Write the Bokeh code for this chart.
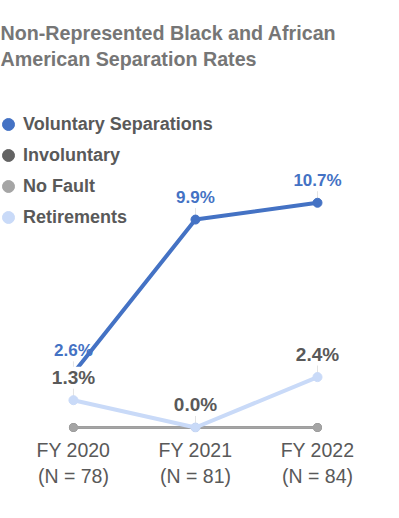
from bokeh.plotting import figure
from bokeh.models import Range1d, FixedTicker, Label, Legend, LegendItem, ColumnDataSource
from bokeh.core.properties import value
from bokeh.embed import file_html
from bokeh.resources import INLINE

categories = ["FY 2020", "FY 2021", "FY 2022"]
n_labels = ["(N = 78)", "(N = 81)", "(N = 84)"]
voluntary = [2.6, 9.9, 10.7]
involuntary = [0.0, 0.0, 0.0]
no_fault = [0.0, 0.0, 0.0]
retirements = [1.3, 0.0, 2.4]

BLUE = "#4472C4"
DARK = "#636363"
GREY = "#A5A5A5"
LIGHT = "#C9DAF8"
TEXT = "#595959"
FONT = "Liberation Sans"

x = list(range(len(categories)))
nan = float("nan")

p = figure(frame_width=383, frame_height=424, output_backend="svg", toolbar_location=None,
           x_range=Range1d(-0.598, 2.541), y_range=Range1d(-0.238, 19.95),
           min_border=0, min_border_top=8, y_axis_location=None, title_location=None)
p.xgrid.visible = False
p.ygrid.visible = False
p.outline_line_color = None

# leader lines
for vals in (voluntary, retirements):
    p.segment(x0=x, y0=vals, x1=x, y1=[v + 0.55 for v in vals], line_color="#E3E3E3", line_width=1)

p.line(x, involuntary, line_color=DARK, line_width=2.5)
p.scatter(x, involuntary, size=8, color=DARK)
p.line(x, no_fault, line_color=GREY, line_width=2.5)
p.scatter(x, no_fault, size=8, color=GREY)
p.line(x, retirements, line_color=LIGHT, line_width=4)
p.scatter(x, retirements, size=9, color=LIGHT)
p.line(x, voluntary, line_color=BLUE, line_width=4)
p.scatter(x, voluntary, size=9, color=BLUE)

vsrc = ColumnDataSource(dict(x=x, y=voluntary, t=[f"{v:.1f}%" for v in voluntary]))
p.text(x="x", y="y", text="t", source=vsrc, y_offset=-22, text_align="center",
       text_baseline="middle", text_color=BLUE, text_font=value(FONT),
       text_font_style="bold", text_font_size="17px")
rsrc = ColumnDataSource(dict(x=x, y=retirements, t=[f"{v:.1f}%" for v in retirements]))
p.text(x="x", y="y", text="t", source=rsrc, y_offset=-23, text_align="center",
       text_baseline="middle", text_color=TEXT, text_font=value(FONT),
       text_font_style="bold", text_font_size="19px", background_fill_color="white")

# legend-only renderers (not drawn in the plot area)
lv = p.scatter(x=[nan], y=[nan], size=12, color=BLUE)
li = p.scatter(x=[nan], y=[nan], size=12, color=DARK)
ln = p.scatter(x=[nan], y=[nan], size=12, color=GREY)
lr = p.scatter(x=[nan], y=[nan], size=12, color=LIGHT)
legend = Legend(items=[LegendItem(label="Voluntary Separations", renderers=[lv]),
                       LegendItem(label="Involuntary", renderers=[li]),
                       LegendItem(label="No Fault", renderers=[ln]),
                       LegendItem(label="Retirements", renderers=[lr])],
                location=(-7, 200), orientation="vertical", glyph_width=30, glyph_height=30,
                label_height=30, spacing=1, padding=0, margin=0, border_line_color=None,
                background_fill_alpha=0, label_text_font=FONT, label_text_font_style="bold",
                label_text_font_size="18px", label_text_color=TEXT, label_standoff=0)
p.add_layout(legend)

title = Label(x=0, y=411, x_units="screen", y_units="screen",
              text="Non-Represented Black and African\nAmerican Separation Rates",
              text_font=FONT, text_font_size="19.7px", text_font_style="bold",
              text_color="#767676", text_baseline="top", text_align="left")
p.add_layout(title)

p.xaxis.ticker = FixedTicker(ticks=x)
p.xaxis.major_label_overrides = {i: f"{c}\n{n}" for i, (c, n) in enumerate(zip(categories, n_labels))}
p.xaxis.axis_line_color = None
p.xaxis.major_tick_line_color = None
p.xaxis.minor_tick_line_color = None
p.xaxis.major_label_text_font = FONT
p.xaxis.major_label_text_font_size = "19.5px"
p.xaxis.major_label_text_color = TEXT
p.xaxis.major_label_standoff = 0

open("out.html", "w").write(file_html(p, INLINE))
